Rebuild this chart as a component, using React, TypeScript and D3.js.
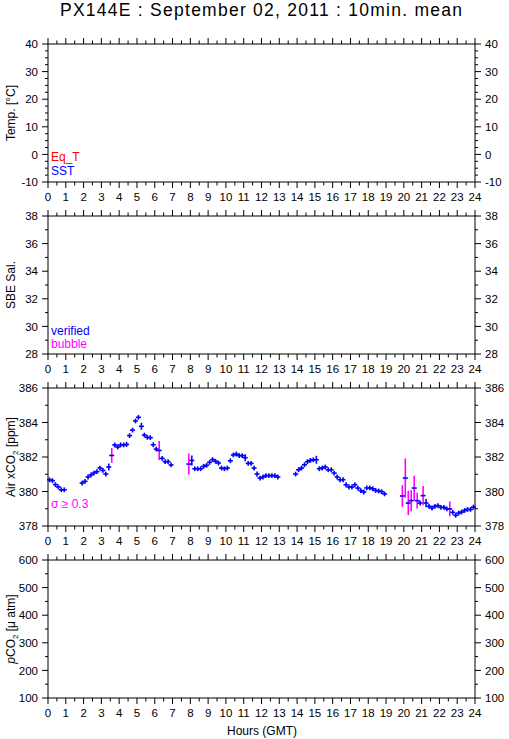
import * as d3 from "d3";

// hour axis
const hourTicks = [0, 1, 2, 3, 4, 5, 6, 7, 8, 9, 10, 11, 12, 13, 14, 15, 16, 17, 18, 19, 20, 21, 22, 23, 24];

// y tick labels per panel
const tempTicks = [-10, 0, 10, 20, 30, 40];
const salTicks = [28, 30, 32, 34, 36, 38];
const xco2Ticks = [378, 380, 382, 384, 386];
const pco2Ticks = [100, 200, 300, 400, 500, 600];

// Air xCO2, 10 min means (minutes of day, ppm, std dev)
const xco2Minutes = [
  5, 15, 25, 35, 45, 55,
  115, 125, 135, 145, 155, 165, 175, 185, 195, 205, 215, 225, 235, 245, 255, 265,
  275, 285, 295, 305, 315, 325, 335, 345, 355, 365, 375, 385, 395, 405, 415,
  475, 485, 495, 505, 515, 525, 535, 545, 555, 565, 575, 585, 595, 605, 615, 625,
  635, 645, 655, 665, 675, 685, 695, 705, 715, 725, 735, 745, 755, 765, 775,
  835, 845, 855, 865, 875, 885, 895, 905, 915, 925, 935, 945, 955, 965, 975, 985,
  995, 1005, 1015, 1025, 1035, 1045, 1055, 1065, 1075, 1085, 1095, 1105, 1115, 1125, 1135,
  1195, 1205, 1215, 1225, 1235, 1245, 1255, 1265, 1275, 1285, 1295, 1305, 1315,
  1325, 1335, 1345, 1355, 1365, 1375, 1385, 1395, 1405, 1415, 1425, 1435,
];
const xco2Values = [
  380.68, 380.63, 380.4, 380.26, 380.1, 380.1,
  380.49, 380.59, 380.84, 380.96, 381.07, 381.15, 381.36, 381.22, 381.01, 381.42, 382.09, 382.7,
  382.58, 382.7, 382.7, 382.73, 383.24, 383.56, 384.09, 384.3, 383.78, 383.27, 383.14, 383.12,
  382.71, 382.46, 382.38, 381.92, 381.73, 381.73, 381.54,
  381.59, 381.8, 381.32, 381.32, 381.32, 381.46, 381.52, 381.69, 381.85, 381.75, 381.65, 381.36,
  381.32, 381.36, 381.78, 382.12, 382.17, 382.08, 382.08, 381.96, 381.63, 381.63, 381.36, 381.01,
  380.78, 380.84, 380.92, 380.92, 380.92, 380.92, 380.84,
  381.01, 381.26, 381.36, 381.55, 381.73, 381.8, 381.84, 381.84, 381.32, 381.36, 381.42, 381.26,
  381.26, 381.07, 380.84, 380.68, 380.68, 380.39, 380.26, 380.26, 380.39, 380.2, 380.05, 379.97,
  380.21, 380.21, 380.16, 380.06, 380.03, 379.99, 379.86,
  379.74, 380.78, 379.33, 379.47, 380.2, 379.47, 379.33, 379.76, 379.33, 379.14, 379.04, 379.14,
  379.18, 379.08, 379.08, 378.99, 378.99, 378.79, 378.62, 378.75, 378.81, 378.9, 378.96, 378.96, 379.1,
];
const xco2Sigma = [
  0.08, 0.1, 0.08, 0.1, 0.08, 0.06,
  0.08, 0.08, 0.08, 0.08, 0.08, 0.1, 0.08, 0.08, 0.08, 0.2, 0.43, 0.08,
  0.08, 0.08, 0.08, 0.15, 0.08, 0.1, 0.08, 0.05, 0.2, 0.1, 0.08, 0.08,
  0.1, 0.1, 0.55, 0.1, 0.08, 0.08, 0.08,
  0.61, 0.29, 0.08, 0.08, 0.08, 0.08, 0.08, 0.08, 0.08, 0.08, 0.08, 0.08,
  0.08, 0.08, 0.12, 0.08, 0.08, 0.08, 0.08, 0.2, 0.08, 0.08, 0.08, 0.15,
  0.08, 0.08, 0.08, 0.08, 0.08, 0.08, 0.08,
  0.08, 0.08, 0.08, 0.08, 0.08, 0.08, 0.08, 0.23, 0.08, 0.08, 0.08, 0.08,
  0.08, 0.08, 0.08, 0.08, 0.08, 0.08, 0.08, 0.08, 0.08, 0.08, 0.08, 0.08,
  0.08, 0.08, 0.08, 0.08, 0.08, 0.08, 0.1,
  0.63, 1.14, 0.7, 0.61, 0.72, 0.46, 0.1, 0.56, 0.24, 0.08, 0.08, 0.08,
  0.1, 0.08, 0.08, 0.1, 0.43, 0.08, 0.08, 0.08, 0.08, 0.08, 0.08, 0.08, 0.08,
];

const W = 509;
const H = 739;
const LEFT = 48;
const RIGHT = 475;
const TOP = 44;
const PH = 138;
const STEP = 172;
const FONT = "'Liberation Sans', Arial, sans-serif";
const BLUE = "#0000ff";
const MAGENTA = "#ff00ff";
const RED = "#ff0000";

const x = d3.scaleLinear().domain([0, 24]).range([LEFT, RIGHT]);

function Panel({ index, ticks, minor, label, children }) {
  const top = TOP + index * STEP;
  const bottom = top + PH;
  const y = d3.scaleLinear().domain([ticks[0], ticks[ticks.length - 1]]).range([bottom, top]);
  const halfHours = d3.range(0.5, 24, 1);
  const minors = d3.range(ticks[0], ticks[ticks.length - 1], minor).filter((v) => !ticks.includes(v));
  return (
    <g>
      {/* frame */}
      <rect x={LEFT} y={top} width={RIGHT - LEFT} height={PH} fill="none" stroke="#000" strokeWidth={1} />
      {/* hour ticks */}
      {hourTicks.map((h) => (
        <g key={"h" + h}>
          <line x1={x(h)} x2={x(h)} y1={top} y2={top - 6} stroke="#000" />
          <line x1={x(h)} x2={x(h)} y1={bottom} y2={bottom + 6} stroke="#000" />
          <text x={x(h)} y={bottom + 19} fontSize={11.5} fontFamily={FONT} textAnchor="middle">
            {h}
          </text>
        </g>
      ))}
      {halfHours.map((h) => (
        <g key={"m" + h}>
          <line x1={x(h)} x2={x(h)} y1={top} y2={top - 3.5} stroke="#000" />
          <line x1={x(h)} x2={x(h)} y1={bottom} y2={bottom + 3.5} stroke="#000" />
        </g>
      ))}
      {/* y ticks */}
      {ticks.map((v) => (
        <g key={"y" + v}>
          <line x1={LEFT} x2={LEFT - 6} y1={y(v)} y2={y(v)} stroke="#000" />
          <line x1={RIGHT} x2={RIGHT + 6} y1={y(v)} y2={y(v)} stroke="#000" />
          <text x={38} y={y(v)} dy="0.36em" fontSize={11.5} fontFamily={FONT} textAnchor="end">
            {v}
          </text>
          <text x={485} y={y(v)} dy="0.36em" fontSize={11.5} fontFamily={FONT} textAnchor="start">
            {v}
          </text>
        </g>
      ))}
      {minors.map((v) => (
        <g key={"n" + v}>
          <line x1={LEFT} x2={LEFT - 3} y1={y(v)} y2={y(v)} stroke="#000" />
          <line x1={RIGHT} x2={RIGHT + 3} y1={y(v)} y2={y(v)} stroke="#000" />
        </g>
      ))}
      <text
        transform={`translate(15,${(top + bottom) / 2}) rotate(-90)`}
        fontSize={12}
        fontFamily={FONT}
        textAnchor="middle"
      >
        {label}
      </text>
      {children(y, top, bottom)}
    </g>
  );
}

export default function App() {
  return (
    <svg
      width={W}
      height={H}
      viewBox={`0 0 ${W} ${H}`}
      style={{ position: "absolute", left: 0, top: 0, background: "#fff" }}
    >
      <rect width={W} height={H} fill="#fff" />
      <text x={261} y={16} fontSize={17.5} fontFamily={FONT} textAnchor="middle" textLength={402} lengthAdjust="spacing">
        PX144E : September 02, 2011 : 10min. mean
      </text>

      <Panel index={0} ticks={tempTicks} minor={2.5} label="Temp. [°C]">
        {(y, top, bottom) => (
          <g fontFamily={FONT} fontSize={12}>
            <text x={51} y={bottom - 21} fill={RED}>Eq_T</text>
            <text x={51} y={bottom - 7} fill={BLUE}>SST</text>
          </g>
        )}
      </Panel>

      <Panel index={1} ticks={salTicks} minor={1} label="SBE Sal.">
        {(y, top, bottom) => (
          <g fontFamily={FONT} fontSize={12}>
            <text x={51} y={bottom - 19} fill={BLUE}>verified</text>
            <text x={51} y={bottom - 6} fill={MAGENTA}>bubble</text>
          </g>
        )}
      </Panel>

      <Panel
        index={2}
        ticks={xco2Ticks}
        minor={1}
        label={
          <>
            Air xCO<tspan dy={3} fontSize={8}>2</tspan>
            <tspan dy={-3}> [ppm]</tspan>
          </>
        }
      >
        {(y, top, bottom) => (
          <g>
            <text x={51} y={bottom - 18} fill={MAGENTA} fontFamily={FONT} fontSize={12}>
              σ ≥ 0.3
            </text>
            {xco2Minutes.map((m, i) => {
              const cx = x(m / 60);
              const v = xco2Values[i];
              const s = xco2Sigma[i];
              const cy = y(v);
              // the "+" symbol always shows at least a short vertical stroke
              const half = Math.max(2.4, Math.abs(y(v + s) - cy));
              return (
                <g key={m}>
                  <line
                    x1={cx}
                    x2={cx}
                    y1={cy - half}
                    y2={cy + half}
                    stroke={s >= 0.3 ? MAGENTA : BLUE}
                    strokeWidth={1.6}
                  />
                  <line x1={cx - 2.5} x2={cx + 2.5} y1={cy} y2={cy} stroke={BLUE} strokeWidth={1.6} />
                </g>
              );
            })}
          </g>
        )}
      </Panel>

      <Panel
        index={3}
        ticks={pco2Ticks}
        minor={50}
        label={
          <>
            <tspan fontStyle="italic">p</tspan>CO<tspan dy={3} fontSize={8}>2</tspan>
            <tspan dy={-3}> [μ atm]</tspan>
          </>
        }
      >
        {() => null}
      </Panel>

      <text x={262} y={735} fontSize={12} fontFamily={FONT} textAnchor="middle">
        Hours (GMT)
      </text>
    </svg>
  );
}
